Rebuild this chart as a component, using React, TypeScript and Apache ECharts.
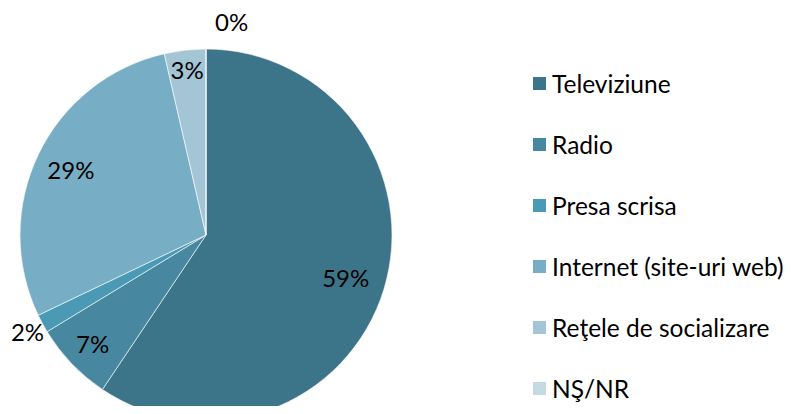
import React, { useEffect, useRef } from "react";
import * as echarts from "echarts";

const categories = ["Televiziune", "Radio", "Presa scrisa", "Internet (site-uri web)", "Reţele de socializare", "NŞ/NR"];
const values = [59.4, 6.9, 1.6, 28.5, 3.6, 0];
const labels = ["59%", "7%", "2%", "29%", "3%", "0%"];
const colors = ["#3C7589", "#4788A0", "#4A9AB5", "#77AEC6", "#A3C5D6", "#C5DBE4"];
// invisible ring whose middle carries each label (null = outside label)
const labelRings: (number[] | null)[] = [[100, 186], [122, 186], [186, 214], [108, 186], [142, 186], null];

export default function App() {
  const ref = useRef<HTMLDivElement>(null);
  useEffect(() => {
    const chart = echarts.init(ref.current!, null, { renderer: "svg" });
    const font = "Lato";
    const center = [198, 227];
    const R = 186;
    const labelStyle = { fontFamily: font, fontSize: 24, color: "#000" };
    const overlay = labelRings
      .map((ring, i) => ({ ring, i }))
      .filter((o) => o.ring)
      .map(({ ring, i }) => ({
        type: "pie",
        center,
        radius: ring,
        startAngle: 90,
        clockwise: true,
        silent: true,
        avoidLabelOverlap: false,
        legendHoverLink: false,
        itemStyle: { color: "rgba(0,0,0,0)", borderWidth: 0 },
        label: { ...labelStyle, show: false },
        labelLine: { show: false },
        data: categories.map((name, j) => ({
          name: name + " ".repeat(i + 1),
          value: values[j],
          label: j === i ? { show: true, position: "inside", formatter: () => labels[j] } : { show: false },
        })),
      }));
    chart.setOption({
      animation: false,
      color: colors,
      textStyle: { fontFamily: font },
      legend: {
        orient: "vertical",
        left: 523,
        top: 63,
        padding: 0,
        itemWidth: 15,
        itemHeight: 15,
        itemGap: 36,
        icon: "rect",
        data: categories,
        textStyle: { fontFamily: font, fontSize: 24.5, color: "#000" },
      },
      series: [
        {
          type: "pie",
          center,
          radius: [0, R],
          startAngle: 90,
          clockwise: true,
          avoidLabelOverlap: false,
          itemStyle: { borderColor: "#ffffff", borderWidth: 0.6 },
          label: { ...labelStyle },
          data: categories.map((name, i) => ({
            name,
            value: values[i],
            label: labelRings[i] === null
              ? { show: true, position: "outside", formatter: () => labels[i] }
              : { show: false },
            labelLine: { show: false, length: 28, length2: 4 },
          })),
        },
        ...overlay,
      ],
    });
    return () => chart.dispose();
  }, []);
  return <div ref={ref} style={{ width: 776, height: 398 }} />;
}
